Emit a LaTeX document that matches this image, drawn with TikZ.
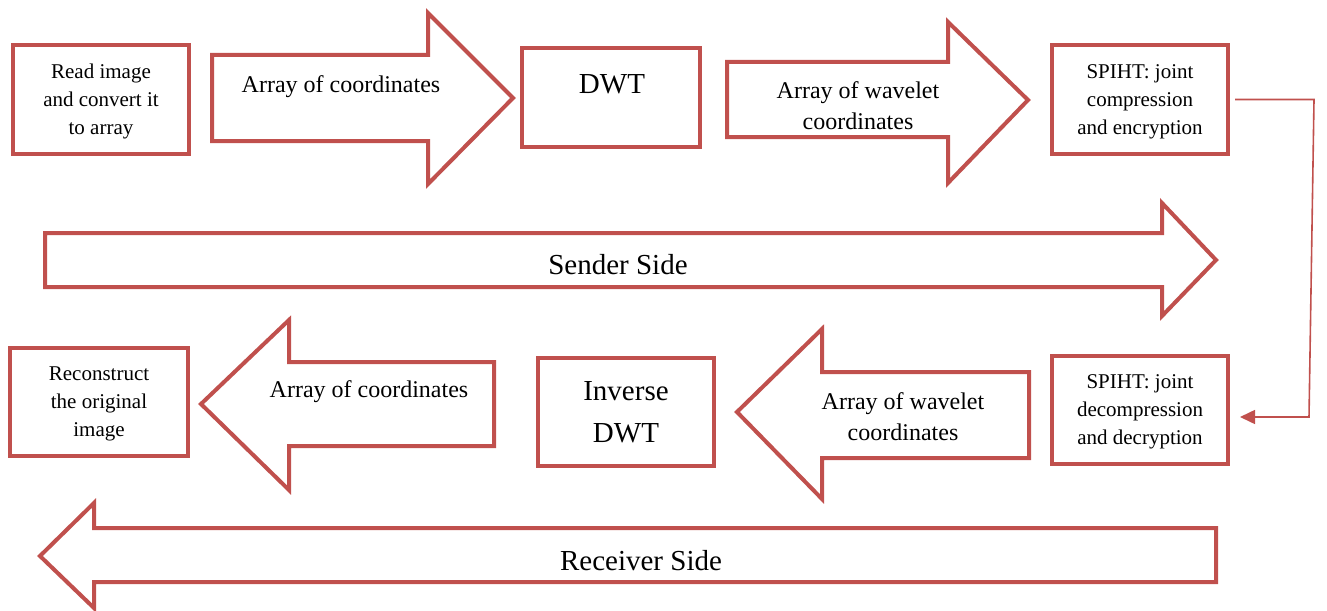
\documentclass[tikz,border=0pt]{standalone}
\usepackage{fontspec}
\setmainfont{Liberation Serif}
\usetikzlibrary{arrows.meta}
\definecolor{accent}{HTML}{C0504D}
\tikzset{
  box/.style={draw=accent, line width=4pt, fill=white, inner sep=0pt},
  bigarrow/.style={draw=accent, line width=4pt, fill=white, line join=miter},
  boxtext/.style={align=center, text depth=0pt, font=\fontsize{21}{28}\selectfont},
  arrowtext/.style={align=center, font=\fontsize{24}{31}\selectfont},
  bigtext/.style={align=center, font=\fontsize{29}{42}\selectfont},
  link/.style={draw=accent, line width=1.6pt, -{Triangle[length=15pt,width=14pt]}}
}
\begin{document}
\begin{tikzpicture}[x=1pt,y=-1pt]
\useasboundingbox (0,0) rectangle (1327,610);

% sender row
\node[box, minimum width=176pt, minimum height=109pt, boxtext] (read) at (101,99.5)
  {Read image\\and convert it\\to array};
\draw[bigarrow] (212,55) -- (428,55) -- (428,13) -- (513,98) -- (428,184) -- (428,141) -- (212,141) -- cycle;
\node[arrowtext] (coords1) at (341,87) {Array of coordinates};

\node[box, minimum width=178pt, minimum height=99pt] (dwt) at (611,97.5) {};
\node[bigtext] (dwtlabel) at (612,84) {DWT};

\draw[bigarrow] (727,62) -- (948,62) -- (948,22) -- (1028,100) -- (948,183) -- (948,137) -- (727,137) -- cycle;
\node[arrowtext] (wave1) at (858,106) {Array of wavelet\\coordinates};

\node[box, minimum width=176pt, minimum height=109pt, boxtext] (sp1) at (1140,99.5)
  {SPIHT: joint\\compression\\and encryption};

% sender side banner
\draw[bigarrow] (45,233) -- (1162,233) -- (1162,203) -- (1216,260) -- (1162,316) -- (1162,287) -- (45,287) -- cycle;
\node[bigtext] (sender) at (618,265) {Sender Side};

% receiver row
\node[box, minimum width=178pt, minimum height=108pt, boxtext] (recon) at (99,402)
  {Reconstruct\\the original\\image};
\draw[bigarrow] (494,362) -- (289,362) -- (289,320) -- (201,404) -- (289,490) -- (289,446) -- (494,446) -- cycle;
\node[arrowtext] (coords2) at (369,392) {Array of coordinates};

\node[box, minimum width=176pt, minimum height=108pt, bigtext] (idwt) at (626,412)
  {Inverse\\DWT};

\draw[bigarrow] (1029,372) -- (822,372) -- (822,329) -- (737,412) -- (822,499) -- (822,458) -- (1029,458) -- cycle;
\node[arrowtext] (wave2) at (903,417) {Array of wavelet\\coordinates};

\node[box, minimum width=176pt, minimum height=108pt, boxtext] (sp2) at (1140,410)
  {SPIHT: joint\\decompression\\and decryption};

% receiver side banner
\draw[bigarrow] (1216,528) -- (94,528) -- (94,503) -- (40,556) -- (94,608) -- (94,582) -- (1216,582) -- cycle;
\node[bigtext] (receiver) at (641,561) {Receiver Side};

% channel link between the two SPIHT stages
\coordinate (turn) at (1309,0);
\draw[link] ([xshift=5pt]sp1.east) -- ([xshift=5pt]sp1.east -| turn)
  -- ([yshift=-7pt]sp2.east -| turn) -- ([xshift=10pt,yshift=-7pt]sp2.east);
\end{tikzpicture}
\end{document}
